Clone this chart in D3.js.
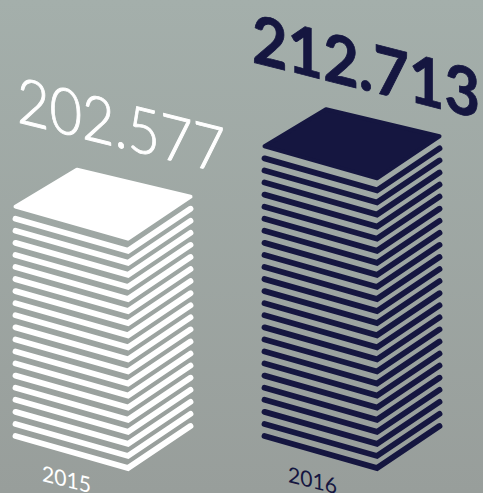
<!DOCTYPE html>
<html>
<head>
<meta charset="utf-8">
<script src="https://cdn.jsdelivr.net/npm/d3@7"></script>
<style>
    html, body { margin: 0; padding: 0; background: #9ea5a2; }
    svg { display: block; }
    text { font-family: Lato, "Open Sans", sans-serif; }
</style>
</head>
<body>
<script>
// Chart data
const years = ["2015", "2016"];
const values = ["202.577", "212.713"];
const layers = [19, 24];

const width = 483;
const height = 493;

const colors = ["#ffffff", "#151640"];
const skew = 14;

const svg = d3.select("body")
    .append("svg")
    .attr("width", width)
    .attr("height", height);

// Background
const defs = svg.append("defs");
const bg = defs.append("linearGradient")
    .attr("id", "bg")
    .attr("x1", 0).attr("y1", 0)
    .attr("x2", 0).attr("y2", 1);
bg.append("stop").attr("offset", "0%").attr("stop-color", "#a4afab");
bg.append("stop").attr("offset", "100%").attr("stop-color", "#989e9b");

svg.append("rect")
    .attr("width", width)
    .attr("height", height)
    .attr("fill", "url(#bg)");

// Left edge of each stack and vertical position of each layer
const x = d3.scalePoint().domain(years).range([15.5, 264.5]);
const layerY = d3.scaleLinear().domain([0, 1]).range([436, 423.93]);

// Shape of one sheet, relative to its left corner
const apex = [112.5, 32];
const right = [175, -10];
const back = [61.5, -37];
const line = d3.line();

const stacks = svg.selectAll("g.stack")
    .data(years)
    .enter()
    .append("g")
    .attr("class", "stack")
    .attr("transform", d => `translate(${x(d)},0)`);

stacks.each(function (year, i) {
    const g = d3.select(this);
    const n = layers[i];

    g.selectAll("path.sheet")
        .data(d3.range(n))
        .enter()
        .append("path")
        .attr("class", "sheet")
        .attr("d", k => {
            const y = layerY(k);
            return line([
                [0, y],
                [apex[0], y + apex[1]],
                [right[0], y + right[1]]
            ]);
        })
        .attr("fill", "none")
        .attr("stroke", colors[i])
        .attr("stroke-width", 5.8)
        .attr("stroke-linecap", "round")
        .attr("stroke-linejoin", "miter");

    // top sheet
    const topY = layerY(n);
    g.append("path")
        .attr("d", line([
            [0, topY],
            [back[0], topY + back[1]],
            [right[0], topY + right[1]],
            [apex[0], topY + apex[1]]
        ]) + "Z")
        .attr("fill", colors[i])
        .attr("stroke", colors[i])
        .attr("stroke-width", 4)
        .attr("stroke-linejoin", "round");
});

// Value labels
const valuePos = [[17, 122], [252, 62]];
const valueSize = [64, 67];
const valueWeight = [300, 700];
const valueStroke = [0.9, 0.8];
const valueLength = [208, 228];

svg.selectAll("text.value")
    .data(values)
    .enter()
    .append("text")
    .attr("class", "value")
    .attr("transform", (d, i) => `translate(${valuePos[i]}) skewY(${skew})`)
    .attr("font-size", (d, i) => valueSize[i])
    .attr("font-weight", (d, i) => valueWeight[i])
    .attr("textLength", (d, i) => valueLength[i])
    .attr("lengthAdjust", "spacingAndGlyphs")
    .attr("fill", (d, i) => colors[i])
    .attr("stroke", (d, i) => colors[i])
    .attr("stroke-width", (d, i) => valueStroke[i])
    .text(d => d);

// Year labels
const yearPos = [[42, 481], [288, 482]];

svg.selectAll("text.year")
    .data(years)
    .enter()
    .append("text")
    .attr("class", "year")
    .attr("transform", (d, i) => `translate(${yearPos[i]}) skewY(${skew})`)
    .attr("font-size", 22)
    .attr("textLength", 49)
    .attr("lengthAdjust", "spacingAndGlyphs")
    .attr("fill", (d, i) => colors[i])
    .text(d => d);
</script>
</body>
</html>
